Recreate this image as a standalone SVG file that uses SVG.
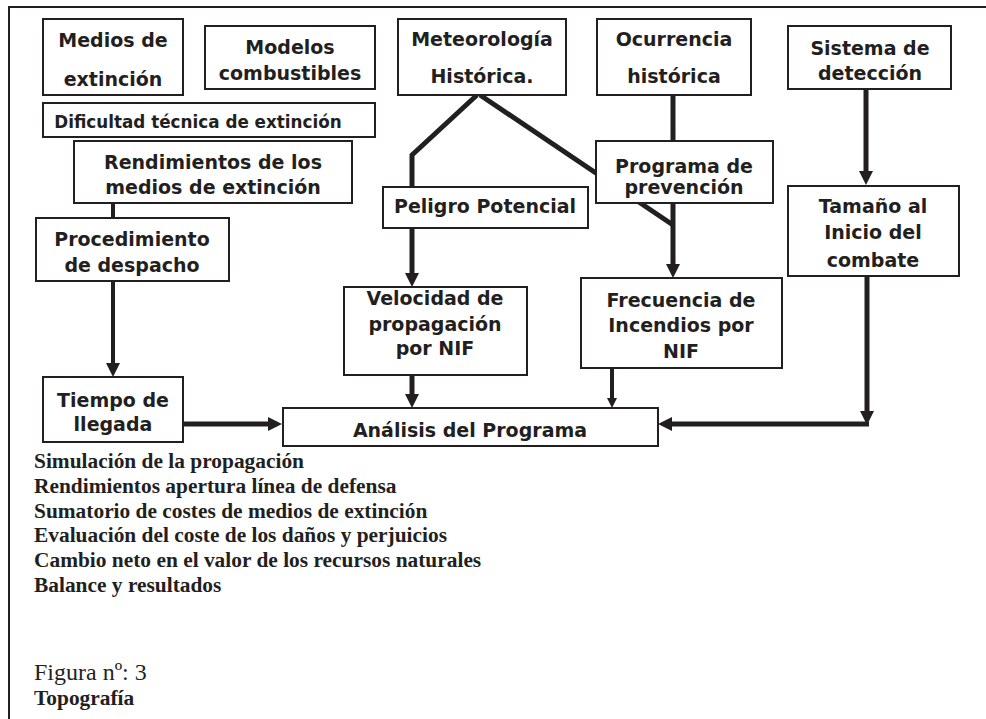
<svg xmlns="http://www.w3.org/2000/svg" width="986" height="719" viewBox="0 0 986 719">
<style>
.box{fill:#fff;stroke:#231f20;stroke-width:2}
.t{font-family:"DejaVu Sans",Verdana,sans-serif;font-weight:bold;font-size:19px;fill:#231f20;text-anchor:middle}
.c{fill:none;stroke:#231f20;stroke-width:5;stroke-linejoin:miter}
.thin{stroke-width:4}
.note{font-family:"Liberation Serif","Times New Roman",serif;font-weight:bold;font-size:21.4px;fill:#231f20}
.frame{fill:none;stroke:#231f20;stroke-width:2}
</style>
<defs>
<marker id="ah" viewBox="0 0 14 14" refX="7" refY="7" markerWidth="14" markerHeight="14" markerUnits="userSpaceOnUse" orient="auto">
<path d="M0,0 L14,7 L0,14 z" fill="#231f20"/>
</marker>
<marker id="ahs" viewBox="0 0 10 10" refX="5" refY="5" markerWidth="10" markerHeight="10" markerUnits="userSpaceOnUse" orient="auto">
<path d="M0,0 L10,5 L0,10 z" fill="#231f20"/>
</marker>
</defs>
<rect width="986" height="719" fill="#fff"/>
<path class="frame" d="M9,719 V7 H986"/>

<g id="connectors">
<line class="c thin" x1="113" y1="202" x2="113" y2="219"/>
<line class="c thin" x1="113" y1="281" x2="113" y2="370" marker-end="url(#ah)"/>
<line class="c" x1="183" y1="424" x2="275" y2="424" marker-end="url(#ah)"/>
<polyline class="c" points="477,95 412,155 412,280" marker-end="url(#ah)"/>
<line class="c" x1="480" y1="95" x2="673" y2="225"/>
<line class="c" x1="673" y1="95" x2="673" y2="271" marker-end="url(#ah)"/>
<line class="c" x1="412" y1="375" x2="412" y2="401" marker-end="url(#ah)"/>
<line class="c thin" x1="612" y1="368" x2="612" y2="403" marker-end="url(#ahs)"/>
<line class="c" x1="866" y1="89" x2="866" y2="178" marker-end="url(#ah)"/>
<line class="c" x1="867" y1="277" x2="867" y2="418" marker-end="url(#ah)"/>
<line class="c" x1="869" y1="424" x2="665" y2="424" marker-end="url(#ah)"/>
</g>

<g id="medios"><rect class="box" x="43" y="19" width="140" height="76"/>
<text class="t" x="113" y="47">Medios de</text><text class="t" x="113" y="86">extinción</text></g>
<g id="modelos"><rect class="box" x="205" y="26" width="170" height="63"/>
<text class="t" x="290" y="54">Modelos</text><text class="t" x="290" y="80">combustibles</text></g>
<g id="dificultad"><rect class="box" x="43" y="103" width="332" height="34"/>
<text class="t" x="198" y="128" style="font-size:16.8px">Dificultad técnica de extinción</text></g>
<g id="rendimientos"><rect class="box" x="74" y="141" width="278" height="62"/>
<text class="t" x="213" y="169">Rendimientos de los</text><text class="t" x="213" y="194">medios de extinción</text></g>
<g id="procedimiento"><rect class="box" x="36" y="218" width="193" height="63"/>
<text class="t" x="132" y="246">Procedimiento</text><text class="t" x="132" y="272">de despacho</text></g>
<g id="meteorologia"><rect class="box" x="398" y="19" width="168" height="76"/>
<text class="t" x="482" y="46">Meteorología</text><text class="t" x="482" y="83">Histórica.</text></g>
<g id="ocurrencia"><rect class="box" x="597" y="19" width="154" height="76"/>
<text class="t" x="674" y="46">Ocurrencia</text><text class="t" x="674" y="83">histórica</text></g>
<g id="sistema"><rect class="box" x="788" y="26" width="163" height="63"/>
<text class="t" x="870" y="55">Sistema de</text><text class="t" x="870" y="80">detección</text></g>
<g id="programa"><rect class="box" x="596" y="141" width="177" height="62"/>
<text class="t" x="684" y="173">Programa de</text><text class="t" x="684" y="194">prevención</text></g>
<g id="peligro"><rect class="box" x="383" y="187" width="205" height="41"/>
<text class="t" x="485" y="213">Peligro Potencial</text></g>
<g id="tamano"><rect class="box" x="788" y="186" width="171" height="90"/>
<text class="t" x="873" y="213">Tamaño al</text><text class="t" x="873" y="239">Inicio del</text><text class="t" x="873" y="267">combate</text></g>
<g id="velocidad"><rect class="box" x="344" y="287" width="183" height="88"/>
<text class="t" x="435" y="305">Velocidad de</text><text class="t" x="435" y="331">propagación</text><text class="t" x="435" y="355">por NIF</text></g>
<g id="frecuencia"><rect class="box" x="581" y="278" width="201" height="90"/>
<text class="t" x="681" y="307">Frecuencia de</text><text class="t" x="681" y="332">Incendios por</text><text class="t" x="681" y="358">NIF</text></g>
<g id="tiempo"><rect class="box" x="43" y="377" width="140" height="65"/>
<text class="t" x="113" y="407">Tiempo de</text><text class="t" x="113" y="431">llegada</text></g>
<g id="analisis"><rect class="box" x="283" y="408" width="375" height="38"/>
<text class="t" x="470" y="437">Análisis del Programa</text></g>

<g id="notes">
<text class="note" x="34" y="468">Simulación de la propagación</text>
<text class="note" x="34" y="493">Rendimientos apertura línea de defensa</text>
<text class="note" x="34" y="518">Sumatorio de costes de medios de extinción</text>
<text class="note" x="34" y="542">Evaluación del coste de los daños y perjuicios</text>
<text class="note" x="34" y="567">Cambio neto en el valor de los recursos naturales</text>
<text class="note" x="34" y="592">Balance y resultados</text>
<text class="note" x="34" y="680" style="font-weight:normal;font-size:24px">Figura nº: 3</text>
<text class="note" x="34" y="705">Topografía</text>
</g>
</svg>
